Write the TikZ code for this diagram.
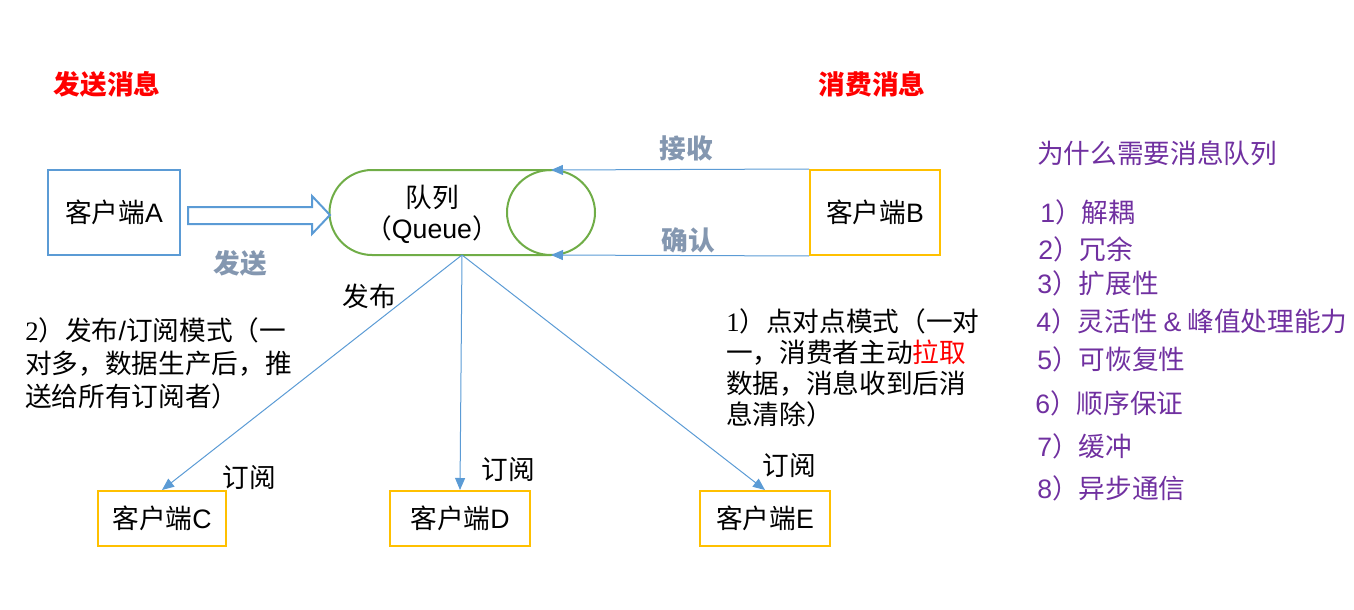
\documentclass[tikz,border=0pt]{standalone}
\usepackage{fontspec}
\setmainfont{Noto Sans CJK SC}
\newfontfamily\lat{Liberation Sans}
\newfontfamily\latserif{Liberation Serif}
\usetikzlibrary{arrows.meta,positioning}
\definecolor{Ink}{HTML}{000000}
\definecolor{Alert}{HTML}{FF0000}
\definecolor{Slate}{HTML}{8497B0}
\definecolor{Plum}{HTML}{7030A0}
\definecolor{Sky}{HTML}{5B9BD5}
\definecolor{Gold}{HTML}{FFC000}
\definecolor{Leaf}{HTML}{70AD47}
\tikzset{
  txt/.style={font=\fontsize{20}{25}\selectfont,inner sep=0pt,text=Ink},
  title/.style={txt,font=\fontsize{20}{25}\selectfont\bfseries,text=Alert},
  tag/.style={txt,font=\fontsize{20}{25}\selectfont\bfseries,text=Slate},
  why/.style={txt,text=Plum,anchor=west},
  producer/.style={draw=Sky,line width=1.5pt,minimum width=99pt,minimum height=63.75pt,txt},
  client/.style={draw=Gold,line width=1.5pt,minimum width=97.5pt,minimum height=41.25pt,txt},
  tube/.style={draw=Leaf,line width=1.5pt},
  arr/.style={-{Triangle[length=9pt,width=7.5pt]},draw=Sky,line width=0.75pt},
  bigarr/.style={draw=Sky,fill=white,line width=1.5pt}
}
\begin{document}
\begin{tikzpicture}[x=0.75pt,y=-0.75pt]
  \useasboundingbox (0,0) rectangle (1354,610);
  % titles
  \node[title] (send) at (107,84) {发送消息};
  \node[title] (consume) at (872,84) {消费消息};
  % clients
  \node[producer] (A) at (114,212.5) {客户端{\lat A}};
  \node[client,minimum height=63.75pt] (B) at (875,212.5) {客户端{\lat B}};
  \node[client,minimum width=96pt] (C) at (162,518.5) {客户端{\lat C}};
  \node[client,minimum width=105pt] (D) at (460,518.5) {客户端{\lat D}};
  \node[client] (E) at (765,518.5) {客户端{\lat E}};
  % queue
  \draw[tube] (551,170) -- (372,170) arc[start angle=270,end angle=90,radius=42.5] -- (551,255);
  \draw[tube] (551,212.5) ellipse[x radius=44,y radius=42.5];
  \node[txt,align=center,font=\fontsize{20}{23}\selectfont] (queue) at (432,214) {队列\\（{\lat Queue}）};
  \coordinate (qtop) at (551,170);
  \coordinate (qbot) at (551,255);
  \coordinate (qout) at (462,255);
  % send
  \draw[bigarr] (188,207) -- (312,207) -- (312,196) -- (330,215) -- (312,234) -- (312,224) -- (188,224) -- cycle;
  \node[tag] (sendtag) at (240,263) {发送};
  % receive / ack
  \draw[arr] (B.north west) -- (qtop);
  \draw[arr] (B.south west) -- (qbot);
  \node[tag] (recv) at (686,148) {接收};
  \node[tag] (ack) at (688,240) {确认};
  % publish / subscribe
  \draw[arr] (qout) -- (C.north);
  \draw[arr] (qout) -- (D.north);
  \draw[arr] (qout) -- (E.north);
  \node[txt] (pub) at (369,296) {发布};
  \node[txt] (subC) at (249,478) {订阅};
  \node[txt] (subD) at (508,470) {订阅};
  \node[txt] (subE) at (789,466) {订阅};
  % modes
  \node[txt,anchor=west,align=left,font=\fontsize{20}{24.75}\selectfont] (pubsub) at (25,363)
    {{\latserif 2}）发布{\lat /}订阅模式（一\\对多，数据生产后，推\\送给所有订阅者）};
  \node[txt,anchor=west,align=left,font=\fontsize{20}{23.25}\selectfont] (p2p) at (726,368)
    {{\latserif 1}）点对点模式（一对\\一，消费者主动\textcolor{Alert}{拉取}\\数据，消息收到后消\\息清除）};
  % why
  \node[why] (whyhead) at (1037,153) {为什么需要消息队列};
  \node[why] (w1) at (1040,212) {{\lat 1}）解耦};
  \node[why] (w2) at (1038,249) {{\lat 2}）冗余};
  \node[why] (w3) at (1037,283) {{\lat 3}）扩展性};
  \node[why] (w4) at (1036,321) {{\lat 4}）灵活性 {\lat \&} 峰值处理能力};
  \node[why] (w5) at (1037,359) {{\lat 5}）可恢复性};
  \node[why] (w6) at (1035,403) {{\lat 6}）顺序保证};
  \node[why] (w7) at (1037,446) {{\lat 7}）缓冲};
  \node[why] (w8) at (1037,488) {{\lat 8}）异步通信};
\end{tikzpicture}
\end{document}
